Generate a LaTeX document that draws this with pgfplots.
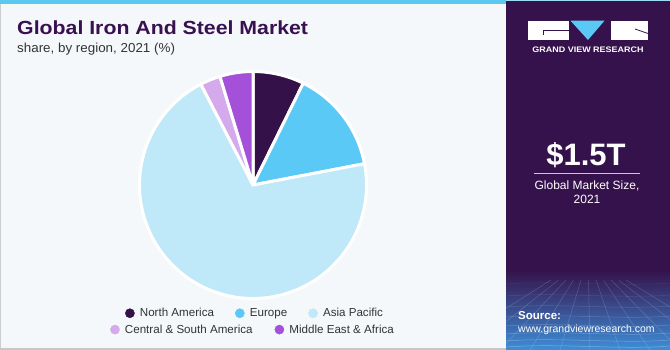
\documentclass[border=0pt]{standalone}
\usepackage{fontspec}
\setmainfont{Liberation Sans}
\usepackage{pgfplots}
\pgfplotsset{compat=1.18}
\usetikzlibrary{shadings}
\definecolor{na}{HTML}{35114A}
\definecolor{eu}{HTML}{5BC9F6}
\definecolor{ap}{HTML}{BFE8F9}
\definecolor{csa}{HTML}{D5AAEC}
\definecolor{mea}{HTML}{A550D9}
\definecolor{panel}{HTML}{35124B}
\definecolor{bg}{HTML}{F4F8FB}
\definecolor{titlec}{HTML}{3A1150}
\definecolor{textc}{HTML}{333333}
\definecolor{topbar}{HTML}{5BC8F0}
\definecolor{gridblue}{HTML}{3E8ED8}
\begin{document}
\begin{tikzpicture}[x=1pt,y=1pt]
\path[use as bounding box] (0,0) rectangle (670,350);
% left panel
\fill[bg] (0,0) rectangle (506,350);
\draw[black!20, line width=1.2] (0.6,0) -- (0.6,350);
\draw[black!22, line width=2] (0,1) -- (506,1);
\fill[topbar] (0,346) rectangle (506,350);
% right panel
\fill[panel] (506,0) rectangle (670,350);
\shade[top color=panel, bottom color=gridblue] (506,0) rectangle (670,80);
\fill[topbar!60!white] (506,349) rectangle (670,350);
\begin{scope}
\clip (506,0) rectangle (670,70);
\foreach \yy/\op in {3/0.30,9/0.28,16/0.26,24/0.22,33/0.18,43/0.14,54/0.10,66/0.06}
  \draw[white, opacity=\op, line width=0.5] (506,\yy) .. controls (560,\yy+4) and (620,\yy-3) .. (670,\yy+1);
\foreach \xx in {440,470,500,530,560,590,620,650,680,710,740}
  \draw[white, opacity=0.18, line width=0.5] (\xx,0) -- (588+0.25*\xx-147,70);
\end{scope}
% logo
\fill[white] (528,310) rectangle (569,329.3);
\draw[panel, line width=0.8] (543.3,319.3) -- (569,319.3);
\draw[panel, line width=0.8] (543.3,319.3) -- (543.3,315);
\fill[eu] (570.5,329.3) -- (604.5,329.3) -- (588,310) -- cycle;
\fill[white] (611,310) rectangle (648,329.3);
\draw[panel, line width=0.8] (635,321) -- (648,316.5);
\node[anchor=base, inner sep=0, text=white, font=\fontsize{8}{9}\selectfont\bfseries] at (588,297) {\scalebox{1.12}[1]{GRAND VIEW RESEARCH}};
\node[anchor=base, inner sep=0, text=white, font=\fontsize{31}{34}\selectfont\bfseries] at (586,184) {\$1.5T};
\draw[white!75!panel, line width=0.8] (534,177) -- (640,177);
\node[anchor=base, inner sep=0, text=white, font=\fontsize{12}{14}\selectfont] at (587,160) {Global Market Size,};
\node[anchor=base, inner sep=0, text=white, font=\fontsize{12}{14}\selectfont] at (587,146) {2021};
\node[anchor=base west, inner sep=0, text=white, font=\fontsize{11.5}{13}\selectfont\bfseries] at (518,30.5) {Source:};
\node[anchor=base west, inner sep=0, text=white, font=\fontsize{10.5}{12}\selectfont] at (518,17) {www.grandviewresearch.com};
% titles
\node[anchor=base west, inner sep=0, text=titlec, font=\fontsize{19}{22}\selectfont\bfseries] at (17,315) {\scalebox{1.12}[1]{Global Iron And Steel Market}};
\node[anchor=base west, inner sep=0, text=textc, font=\fontsize{13}{15}\selectfont] at (17,297) {\scalebox{1.03}[1]{share, by region, 2021 (\%)}};
% pie: shares (%) North America 7.3, Europe 14.7, Asia Pacific 70.4,
% Central & South America 2.9, Middle East & Africa 4.7 (cumulative bounds used as domains)
\pgfplotsset{legimg/.style={legend image code/.code={\fill[##1] (0pt,0pt) circle (4.6pt); \path (7.8pt,0pt) (-4.6pt,0pt);}}}
\begin{axis}[at={(139.5pt,51.5pt)}, anchor=south west, scale only axis, width=227pt, height=227pt,
  xmin=-1, xmax=1, ymin=-1, ymax=1, hide axis, clip=false, legimg,
  legend columns=-1,
  legend style={at={(0.509,-0.065)}, anchor=center, draw=none, fill=none,
    font=\fontsize{11.6}{13}\selectfont, text=textc,
    /tikz/every even column/.append style={column sep=19pt}}]
\addplot[fill=na, draw=white, line width=3pt, line join=round, domain=0:7.3, samples=30, forget plot] ({sin(3.6*x)},{cos(3.6*x)}) -- (axis cs:0,0) -- cycle;
\addplot[fill=eu, draw=white, line width=3pt, line join=round, domain=7.3:22.0, samples=40, forget plot] ({sin(3.6*x)},{cos(3.6*x)}) -- (axis cs:0,0) -- cycle;
\addplot[fill=ap, draw=white, line width=3pt, line join=round, domain=22.0:92.4, samples=140, forget plot] ({sin(3.6*x)},{cos(3.6*x)}) -- (axis cs:0,0) -- cycle;
\addplot[fill=csa, draw=white, line width=3pt, line join=round, domain=92.4:95.3, samples=15, forget plot] ({sin(3.6*x)},{cos(3.6*x)}) -- (axis cs:0,0) -- cycle;
\addplot[fill=mea, draw=white, line width=3pt, line join=round, domain=95.3:100, samples=20, forget plot] ({sin(3.6*x)},{cos(3.6*x)}) -- (axis cs:0,0) -- cycle;
\addlegendimage{na}\addlegendentry{North America}
\addlegendimage{eu}\addlegendentry{Europe}
\addlegendimage{ap}\addlegendentry{Asia Pacific}
\end{axis}
\begin{axis}[at={(139.5pt,51.5pt)}, anchor=south west, scale only axis, width=227pt, height=227pt,
  xmin=-1, xmax=1, ymin=-1, ymax=1, hide axis, legimg,
  legend columns=-1,
  legend style={at={(0.5,-0.137)}, anchor=center, draw=none, fill=none,
    font=\fontsize{11.6}{13}\selectfont, text=textc,
    /tikz/every even column/.append style={column sep=20pt}}]
\addlegendimage{csa}\addlegendentry{Central \& South America}
\addlegendimage{mea}\addlegendentry{Middle East \& Africa}
\end{axis}
\end{tikzpicture}
\end{document}
